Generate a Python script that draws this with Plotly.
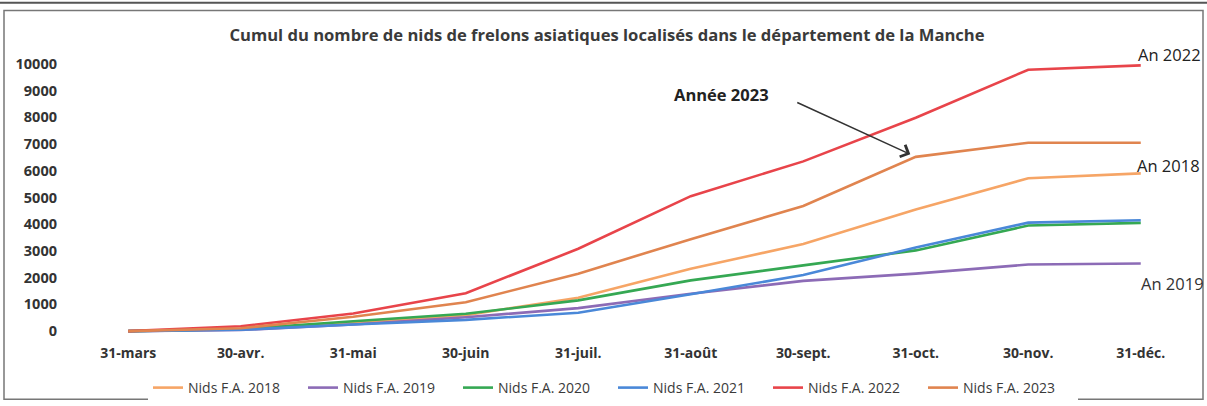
import plotly.graph_objects as go

categories = ["31-mars", "30-avr.", "31-mai", "30-juin", "31-juil.", "31-août",
              "30-sept.", "31-oct.", "30-nov.", "31-déc."]
nids_2018 = [0, 60, 300, 600, 1250, 2330, 3260, 4550, 5720, 5900]
nids_2019 = [0, 40, 250, 520, 860, 1400, 1880, 2150, 2490, 2530]
nids_2020 = [0, 80, 370, 650, 1150, 1900, 2460, 3020, 3950, 4050]
nids_2021 = [0, 50, 250, 420, 690, 1380, 2100, 3130, 4060, 4150]
nids_2022 = [0, 180, 660, 1420, 3080, 5050, 6350, 7980, 9780, 9940]
nids_2023 = [0, 110, 540, 1080, 2150, 3440, 4680, 6520, 7050, 7050]
series_names = ["Nids F.A. 2018", "Nids F.A. 2019", "Nids F.A. 2020",
                "Nids F.A. 2021", "Nids F.A. 2022", "Nids F.A. 2023"]
y_ticks = [0, 1000, 2000, 3000, 4000, 5000, 6000, 7000, 8000, 9000, 10000]
y_tick_labels = [str(v) for v in y_ticks]

colors = ["#F6A566", "#8C6BB6", "#35A853", "#4A88D8", "#E8444A", "#E0844F"]
all_series = [nids_2018, nids_2019, nids_2020, nids_2021, nids_2022, nids_2023]

W, H = 1207, 406
L, R, T, B = 72, 10, 50, 61
pw, ph = W - L - R, H - T - B

def px2x(px):
    return (px - L) / pw

def px2y(py):
    return (H - B - py) / ph

fig = go.Figure()
for name, vals, col in zip(series_names, all_series, colors):
    fig.add_trace(go.Scatter(x=categories, y=vals, mode="lines", name=name,
                             line=dict(color=col, width=2.6)))

FONT = "Open Sans"
fig.update_layout(
    width=W, height=H,
    margin=dict(l=L, r=R, t=T, b=B),
    plot_bgcolor="white", paper_bgcolor="white",
    font=dict(family=FONT, color="#404040"),
    title=dict(text="<b>Cumul du nombre de nids de frelons asiatiques localisés dans le département de la Manche</b>",
               x=607 / W, xref="container", xanchor="center", y=1 - 35 / H, yanchor="middle",
               font=dict(size=16.6, color="#3a3a3a", family=FONT)),
    xaxis=dict(type="category", range=[-0.5, 9.5], showgrid=False, zeroline=False,
               showline=False, ticks="", ticklabelstandoff=2,
               tickfont=dict(size=14, color="#333333", family=FONT, weight="bold")),
    yaxis=dict(range=[-369, 10517], tickvals=y_ticks, ticktext=y_tick_labels,
               showgrid=False, zeroline=False, showline=False, ticks="", ticklabelstandoff=14,
               tickfont=dict(size=14.5, color="#333333", family=FONT, weight="bold")),
    showlegend=True,
    legend=dict(orientation="h", x=px2x(148), xanchor="left", y=(H - 388) / H, yref="container",
                yanchor="middle", entrywidth=110, entrywidthmode="pixels",
                font=dict(size=14, color="#3a3a3a", family=FONT), itemwidth=30),
)

# Text labels
def label(text, px, py, size, color="#222222"):
    fig.add_annotation(text=text, xref="paper", yref="paper", x=px2x(px), y=px2y(py),
                       xanchor="center", yanchor="middle", showarrow=False,
                       font=dict(size=size, color=color, family=FONT))

label("An 2022", 1169, 55, 16.5)
label("An 2018", 1168, 167, 16.5)
label("An 2019", 1172, 287, 16.5, "#333333")
label("<b>Année 2023</b>", 721, 95, 16.5)

# arrow to 2023 series at 31-oct.
fig.add_annotation(x=categories[7], y=nids_2023[7], xref="x", yref="y", text="",
                   showarrow=True, ax=-120, ay=-55, arrowhead=4, arrowsize=1.7,
                   arrowwidth=1.5, arrowcolor="#333333", standoff=6)

# frame lines
fig.add_shape(type="line", xref="paper", yref="paper", x0=px2x(0), x1=px2x(W), y0=px2y(2), y1=px2y(2),
              line=dict(color="#555555", width=2))
fig.add_shape(type="rect", xref="paper", yref="paper", x0=px2x(4), x1=px2x(1203), y0=px2y(10), y1=px2y(404),
              line=dict(color="#777777", width=1.5))

fig.write_html("out.html", config={"displayModeBar": False},
               post_script="document.body.style.margin='0';")
